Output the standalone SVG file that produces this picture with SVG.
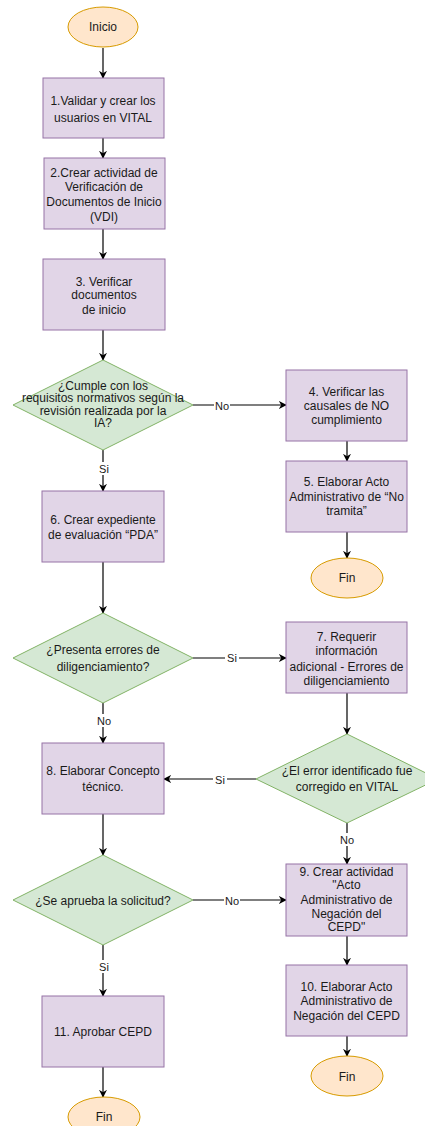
<svg xmlns="http://www.w3.org/2000/svg" width="425" height="1126" viewBox="0 0 425 1126">
<style>
.term{fill:#ffe6cc;stroke:#d79b00;stroke-width:1}
.proc{fill:#e1d5e7;stroke:#9673a6;stroke-width:1}
.dec{fill:#d5e8d4;stroke:#82b366;stroke-width:1}
text{font-family:"Liberation Sans",Arial,sans-serif;font-size:12px;fill:#1a1a1a;text-anchor:middle}
.edge{stroke:#000;stroke-width:1.2;fill:none;marker-end:url(#arr)}
.lbl{font-size:11px}
.lblbg{fill:#fff}
</style>
<defs>
<marker id="arr" viewBox="0 0 10 10" refX="9" refY="5" markerWidth="8" markerHeight="8" markerUnits="userSpaceOnUse" orient="auto">
<path d="M0,0 L10,5 L0,10 L3,5 Z" fill="#000"/>
</marker>
</defs>
<rect width="425" height="1126" fill="#fff"/>
<g id="connectors">
<line class="edge" x1="103" y1="48" x2="103" y2="78"/>
<line class="edge" x1="103" y1="138" x2="103" y2="158"/>
<line class="edge" x1="103" y1="229" x2="103" y2="259"/>
<line class="edge" x1="103" y1="330" x2="103" y2="360"/>
<line class="edge" x1="193" y1="405" x2="286" y2="405"/>
<line class="edge" x1="103" y1="450" x2="103" y2="491"/>
<line class="edge" x1="347" y1="441" x2="347" y2="461"/>
<line class="edge" x1="347" y1="532" x2="347" y2="558"/>
<line class="edge" x1="103" y1="562" x2="103" y2="613"/>
<line class="edge" x1="193" y1="658" x2="286" y2="658"/>
<line class="edge" x1="103" y1="703" x2="103" y2="743"/>
<line class="edge" x1="347" y1="693" x2="347" y2="734"/>
<line class="edge" x1="256" y1="779" x2="164" y2="779"/>
<line class="edge" x1="347" y1="823" x2="347" y2="864"/>
<line class="edge" x1="103" y1="814" x2="103" y2="855"/>
<line class="edge" x1="193" y1="900" x2="286" y2="900"/>
<line class="edge" x1="103" y1="945" x2="103" y2="996"/>
<line class="edge" x1="347" y1="936" x2="347" y2="965"/>
<line class="edge" x1="347" y1="1036" x2="347" y2="1056"/>
<line class="edge" x1="103" y1="1067" x2="103" y2="1097"/>
<rect class="lblbg" x="214" y="399" width="16" height="13"/>
<text class="lbl" x="222" y="410">No</text>
<rect class="lblbg" x="97" y="462" width="14" height="13"/>
<text class="lbl" x="104" y="473">Si</text>
<rect class="lblbg" x="225" y="652" width="14" height="13"/>
<text class="lbl" x="232" y="662">Si</text>
<rect class="lblbg" x="96" y="714" width="16" height="13"/>
<text class="lbl" x="104" y="725">No</text>
<rect class="lblbg" x="213" y="773" width="14" height="13"/>
<text class="lbl" x="220" y="784">Si</text>
<rect class="lblbg" x="339" y="833" width="16" height="13"/>
<text class="lbl" x="347" y="844">No</text>
<rect class="lblbg" x="224" y="894" width="16" height="13"/>
<text class="lbl" x="232" y="905">No</text>
<rect class="lblbg" x="97" y="960" width="14" height="13"/>
<text class="lbl" x="104" y="971">Si</text>
</g>
<g id="inicio">
<ellipse class="term" cx="103" cy="27" rx="35" ry="20"/>
<text x="103" y="31">Inicio</text>
</g>
<g id="n1">
<rect class="proc" x="43" y="78" width="121" height="60"/>
<text x="103" y="105">1.Validar y crear los</text>
<text x="103" y="122">usuarios en VITAL</text>
</g>
<g id="n2">
<rect class="proc" x="44" y="158" width="121" height="71"/>
<text x="104" y="177">2.Crear actividad de</text>
<text x="104" y="191">Verificación de</text>
<text x="104" y="206">Documentos de Inicio</text>
<text x="104" y="221">(VDI)</text>
</g>
<g id="n3">
<rect class="proc" x="43" y="259" width="122" height="71"/>
<text x="104" y="286">3. Verificar</text>
<text x="104" y="299">documentos</text>
<text x="104" y="314">de inicio</text>
</g>
<g id="d1">
<polygon class="dec" points="103,360 193,405 103,450 13,405"/>
<text x="103" y="390">¿Cumple con los</text>
<text x="103" y="402">requisitos normativos según la</text>
<text x="103" y="415">revisión realizada por la</text>
<text x="103" y="427">IA?</text>
</g>
<g id="n4">
<rect class="proc" x="286" y="370" width="121" height="71"/>
<text x="346.5" y="396">4. Verificar las</text>
<text x="346.5" y="410">causales de NO</text>
<text x="346.5" y="424">cumplimiento</text>
</g>
<g id="n5">
<rect class="proc" x="286" y="461" width="121" height="71"/>
<text x="346.5" y="486">5. Elaborar Acto</text>
<text x="346.5" y="501">Administrativo de “No</text>
<text x="346.5" y="515">tramita”</text>
</g>
<g id="fin1">
<ellipse class="term" cx="347" cy="578" rx="36" ry="20"/>
<text x="347" y="582">Fin</text>
</g>
<g id="n6">
<rect class="proc" x="42" y="491" width="122" height="71"/>
<text x="103" y="524">6. Crear expediente</text>
<text x="103" y="539">de evaluación “PDA”</text>
</g>
<g id="d2">
<polygon class="dec" points="103,613 193,658 103,703 13,658"/>
<text x="103" y="654">¿Presenta errores de</text>
<text x="103" y="671">diligenciamiento?</text>
</g>
<g id="n7">
<rect class="proc" x="286" y="622" width="121" height="71"/>
<text x="346.5" y="641">7. Requerir</text>
<text x="346.5" y="655">información</text>
<text x="346.5" y="671">adicional - Errores de</text>
<text x="346.5" y="685">diligenciamiento</text>
</g>
<g id="d3">
<polygon class="dec" points="347,734 438,779 347,823 256,779"/>
<text x="347" y="775">¿El error identificado fue</text>
<text x="347" y="791">corregido en VITAL</text>
</g>
<g id="n8">
<rect class="proc" x="42" y="743" width="122" height="71"/>
<text x="103" y="775">8. Elaborar Concepto</text>
<text x="103" y="791">técnico.</text>
</g>
<g id="d4">
<polygon class="dec" points="103,855 193,900 103,945 13,900"/>
<text x="103" y="905">¿Se aprueba la solicitud?</text>
</g>
<g id="n9">
<rect class="proc" x="286" y="864" width="121" height="72"/>
<text x="346.5" y="876">9. Crear actividad</text>
<text x="346.5" y="889">"Acto</text>
<text x="346.5" y="904">Administrativo de</text>
<text x="346.5" y="918">Negación del</text>
<text x="346.5" y="931">CEPD"</text>
</g>
<g id="n10">
<rect class="proc" x="286" y="965" width="121" height="71"/>
<text x="346.5" y="991">10. Elaborar Acto</text>
<text x="346.5" y="1005">Administrativo de</text>
<text x="346.5" y="1020">Negación del CEPD</text>
</g>
<g id="fin2">
<ellipse class="term" cx="347" cy="1076" rx="36" ry="20"/>
<text x="347" y="1081">Fin</text>
</g>
<g id="n11">
<rect class="proc" x="42" y="996" width="122" height="71"/>
<text x="103" y="1036">11. Aprobar CEPD</text>
</g>
<g id="fin3">
<ellipse class="term" cx="104" cy="1117" rx="36" ry="20"/>
<text x="104" y="1121">Fin</text>
</g>
</svg>
